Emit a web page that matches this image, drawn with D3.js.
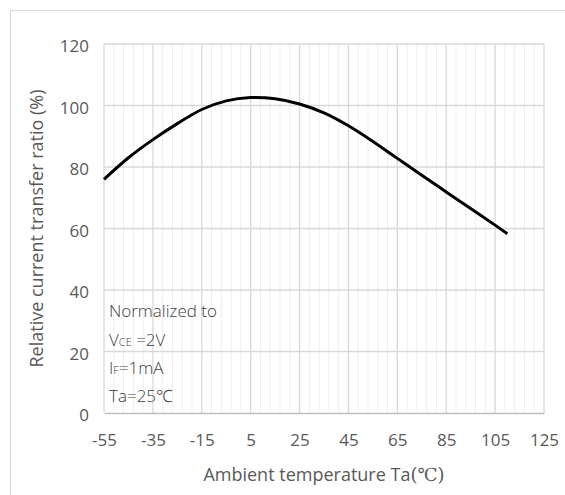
<!DOCTYPE html>
<html>
<head>
<meta charset="utf-8">
<title>Relative CTR vs Ambient temperature</title>
<script src="https://d3js.org/d3.v7.min.js"></script>
<style>
	body{margin:0;background:#fff;}
	svg{display:block;}
	text{font-family:"Open Sans","Noto Sans",sans-serif;}
</style>
</head>
<body>
<div id="chart"></div>
<script>

// values
var temps = [-55, -45, -35, -25, -15, -5, 5, 15, 25, 35, 45, 55, 65, 75, 85, 95, 105, 110];
var ctr   = [76, 83, 88.9, 94.1, 98.7, 101.5, 102.6, 102.2, 100.5, 97.6, 93.4, 88.3, 82.8, 77.3, 71.9, 66.5, 61.1, 58.3];
var xTicks = [-55, -35, -15, 5, 25, 45, 65, 85, 105, 125];
var yTicks = [0, 20, 40, 60, 80, 100, 120];
var notes = ['Normalized to', 'VCE =2V', 'IF=1mA', 'Ta=25℃'];

var W = 565, H = 495;
var margin = {top:44, left:104, right:21, bottom:82};

var svg = d3.select('#chart').append('svg')
	.attr('width', W)
	.attr('height', H);

// outer frame
svg.append('rect')
	.attr('x', 10.5).attr('y', 10.5)
	.attr('width', W).attr('height', H)
	.attr('fill', 'none')
	.attr('stroke', '#d9d9d9');

var x = d3.scaleLinear().domain([-55, 125]).range([margin.left, W - margin.right]);
var y = d3.scaleLinear().domain([0, 120]).range([H - margin.bottom, margin.top]);

// minor vertical grid every 4 degrees
svg.append('g').selectAll('line')
	.data(d3.range(-55, 126, 4).filter(function(d){ return (d + 55) % 20 != 0; }))
	.enter().append('line')
		.attr('x1', function(d){ return x(d); })
		.attr('x2', function(d){ return x(d); })
		.attr('y1', y(0)).attr('y2', y(120))
		.attr('stroke', '#ededed')
		.attr('stroke-width', 1);

// major vertical grid
svg.append('g').selectAll('line')
	.data(xTicks)
	.enter().append('line')
		.attr('x1', function(d){ return x(d); })
		.attr('x2', function(d){ return x(d); })
		.attr('y1', y(0)).attr('y2', y(120))
		.attr('stroke', '#d9d9d9')
		.attr('stroke-width', 1.3);

// horizontal grid
svg.append('g').selectAll('line')
	.data(yTicks.slice(1))
	.enter().append('line')
		.attr('x1', x(-55)).attr('x2', x(125))
		.attr('y1', function(d){ return y(d); })
		.attr('y2', function(d){ return y(d); })
		.attr('stroke', '#d9d9d9')
		.attr('stroke-width', 1.3);

// bottom axis
var xAxis = svg.append('g')
	.attr('transform', 'translate(0,' + y(0) + ')')
	.call(d3.axisBottom(x).tickValues(xTicks).tickSize(0).tickPadding(21)
		.tickFormat(function(d){ return String(d); }));
xAxis.select('.domain').attr('stroke', '#bfbfbf').attr('stroke-width', 1.5);
xAxis.selectAll('text').attr('font-size', 17).attr('fill', '#595959');

var yAxis = svg.append('g')
	.attr('transform', 'translate(' + x(-55) + ',0)')
	.call(d3.axisLeft(y).tickValues(yTicks).tickSize(0).tickPadding(15)
		.tickFormat(function(d){ return String(d); }));
yAxis.select('.domain').remove();
yAxis.selectAll('text').attr('font-size', 17).attr('fill', '#595959').attr('dy', '0.45em');

// curve
var line = d3.line()
	.x(function(d, i){ return x(temps[i]); })
	.y(function(d){ return y(d); })
	.curve(d3.curveCatmullRom);

svg.append('path')
	.datum(ctr)
	.attr('d', line)
	.attr('fill', 'none')
	.attr('stroke', '#000')
	.attr('stroke-width', 3);

// axis titles
var xt = svg.append('text')
	.attr('x', (x(-55) + x(125)) / 2)
	.attr('y', 481)
	.attr('text-anchor', 'middle')
	.attr('font-size', 18)
	.attr('fill', '#595959');
xt.append('tspan').text('Ambient temperature Ta');
xt.append('tspan').attr('font-family', '"DejaVu Serif","Liberation Serif",serif').attr('font-size', 18).text('(℃)');

svg.append('text')
	.attr('transform', 'translate(43,' + ((y(0) + y(120)) / 2) + ') rotate(-90)')
	.attr('text-anchor', 'middle')
	.attr('font-size', 18)
	.attr('fill', '#595959')
	.text('Relative current transfer ratio (%)');

// note block
var note = svg.append('g').attr('fill', '#404040').attr('font-size', 17).attr('font-weight', 300);
note.append('text').attr('x', 109).attr('y', 317).text(notes[0]);
var v = note.append('text').attr('x', 109).attr('y', 346);
v.append('tspan').text('V');
v.append('tspan').attr('font-size', 11).text('CE');
v.append('tspan').text(' =2V');
var i = note.append('text').attr('x', 109).attr('y', 374);
i.append('tspan').text('I');
i.append('tspan').attr('font-size', 11).text('F');
i.append('tspan').text('=1mA');
note.append('text').attr('x', 109).attr('y', 402).text(notes[3]);

</script>
</body>
</html>
